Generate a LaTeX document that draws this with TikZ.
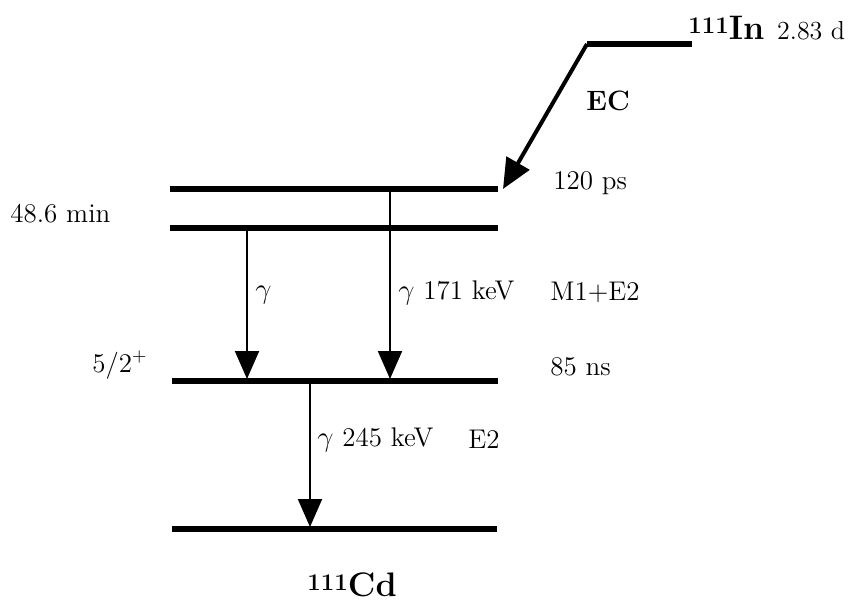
\documentclass[tikz,border=0pt]{standalone}
\usepackage{tikz}
\usetikzlibrary{arrows.meta,positioning}

\newcommand{\massno}[1]{\raisebox{3pt}{\fontsize{12}{14}\selectfont #1}}

\begin{document}
\begin{tikzpicture}[
  x=0.5pt, y=-0.5pt,
  font=\fontsize{13.5}{16}\selectfont,
  level/.style={line width=3pt},
  gamma/.style={-{Triangle[length=14pt, width=12pt]}, line width=1pt},
  decay/.style={-{Triangle[length=15pt, width=13pt]}, line width=2pt},
  lbl/.style={inner sep=0pt, anchor=west},
  nucl/.style={inner sep=0pt, anchor=base west,
    font=\fontsize{17}{20}\selectfont\bfseries}
]
  \useasboundingbox (0,0) rectangle (851,600);

  \coordinate (inL) at (587,44);  \coordinate (inR) at (692,44);
  \coordinate (aL) at (170,189);  \coordinate (aR) at (498,189);
  \coordinate (bL) at (170,228);  \coordinate (bR) at (498,228);
  \coordinate (cL) at (172,381);  \coordinate (cR) at (498,381);
  \coordinate (dL) at (172,529);  \coordinate (dR) at (497,529);

  \coordinate (ecend) at (503,189);
  \coordinate (g1top) at (247,228); \coordinate (g1end) at (247,379);
  \coordinate (g2top) at (390,189); \coordinate (g2end) at (390,379);
  \coordinate (g3top) at (310,381); \coordinate (g3end) at (310,527);

  \draw[level] (inL) -- (inR);
  \draw[level] (aL) -- (aR);
  \draw[level] (bL) -- (bR);
  \draw[level] (cL) -- (cR);
  \draw[level] (dL) -- (dR);

  \draw[decay] (inL) -- (ecend);
  \draw[gamma] (g1top) -- (g1end);
  \draw[gamma] (g2top) -- (g2end);
  \draw[gamma] (g3top) -- (g3end);

  \node[nucl] (parent) at (688,39)
    {\massno{111}In\ {\mdseries\fontsize{13}{15}\selectfont 2.83 d}};
  \node[lbl, font=\fontsize{14}{16}\selectfont\bfseries] (ec) at (586,101) {EC};
  \node[lbl] (tau1) at (553,183) {120 ps};
  \node[lbl] (tau2) at (10,214) {48.6 min};
  \node[lbl] (spin) at (92,365) {5/2$^{+}$};
  \node[lbl] (tau3) at (550,367) {85 ns};
  \node[lbl] (gam1) at (255,295) {$\gamma$};
  \node[lbl] (gam2) at (398,293) {$\gamma$\ 171 keV};
  \node[lbl] (mult2) at (550,292) {M1+E2};
  \node[lbl] (gam3) at (317,440) {$\gamma$\ 245 keV};
  \node[lbl] (mult3) at (468,439) {E2};
  \node[nucl] (daughter) at (307,596) {\massno{111}Cd};
\end{tikzpicture}
\end{document}
